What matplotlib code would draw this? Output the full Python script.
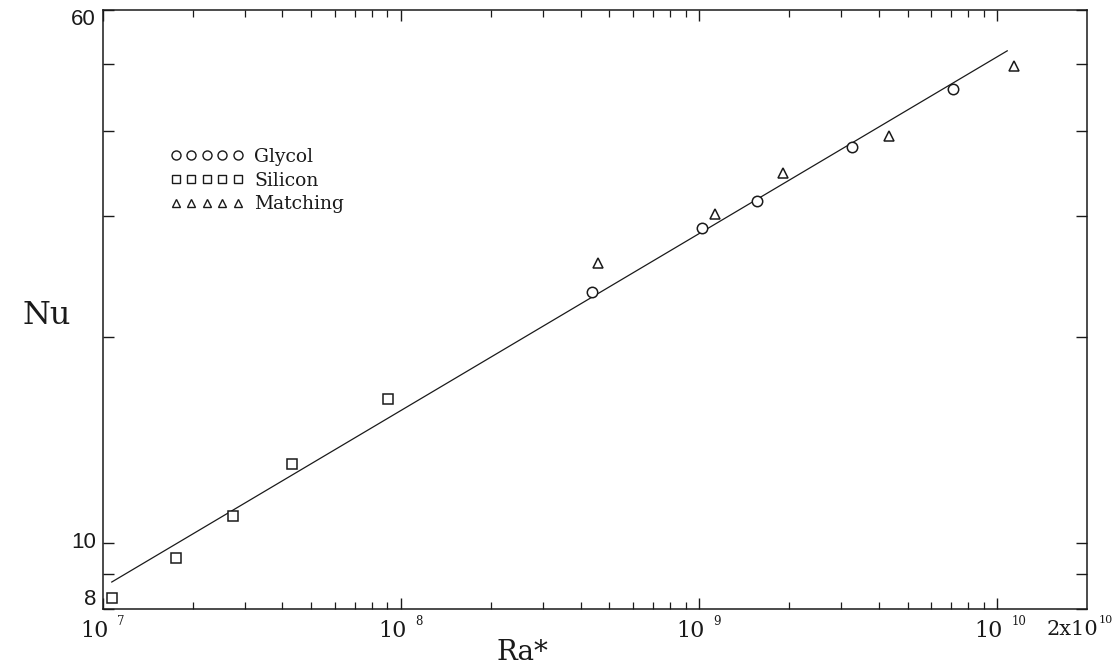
import numpy as np
import matplotlib
matplotlib.use("Agg")
import matplotlib.pyplot as plt
from matplotlib.lines import Line2D

# --- data ---
silicon_ra = [1.07e7, 1.76e7, 2.73e7, 4.31e7, 9.06e7]
silicon_nu = [8.30, 9.50, 10.94, 13.03, 16.21]

glycol_ra = [4.36e8, 1.02e9, 1.56e9, 3.26e9, 7.11e9]
glycol_nu = [23.2, 28.8, 31.6, 37.8, 46.0]

matching_ra = [4.56e8, 1.13e9, 1.91e9, 4.33e9, 1.14e10]
matching_nu = [25.6, 30.2, 34.7, 39.3, 49.7]

# correlation line, end points
fit_ra = [1.07e7, 1.08e10]
fit_nu = [8.76, 52.3]

x_decades = [1e7, 1e8, 1e9, 1e10]
x_decade_exp = ["7", "8", "9", "10"]
x_end = 2e10
y_ticks = [8, 9, 10, 20, 30, 40, 50, 60]
y_labels = {8: "8", 10: "10", 60: "60"}

INK = "#1a1a1a"
SERIF = ["DejaVu Serif"]
SANS = ["Liberation Sans", "DejaVu Sans"]

fig = plt.figure(figsize=(11.18, 6.67), dpi=100)
ax = fig.add_axes([103 / 1118, 1 - 609 / 667, 984 / 1118, 599 / 667])
ax.set_xscale("log")
ax.set_yscale("log")
ax.set_xlim(1e7, x_end)
ax.set_ylim(8, 60)

ax.plot(fit_ra, fit_nu, color=INK, lw=0.9)
ax.plot(glycol_ra, glycol_nu, ls="none", marker="o", ms=7.5, mfc="white", mec=INK, mew=1.1)
ax.plot(silicon_ra, silicon_nu, ls="none", marker="s", ms=6.5, mfc="white", mec=INK, mew=1.1)
ax.plot(matching_ra, matching_nu, ls="none", marker="^", ms=6.5, mfc="white", mec=INK, mew=1.1)

for s in ax.spines.values():
    s.set_color(INK)
    s.set_linewidth(1.1)

# ticks: inward on all four sides, labels drawn by hand
ax.tick_params(which="both", direction="in", top=True, right=True, colors=INK,
               labelbottom=False, labelleft=False)
ax.tick_params(which="major", length=8, width=1.0)
ax.tick_params(which="minor", length=5, width=0.9)
ax.set_xticks(x_decades)
ax.set_xticks([m * d for d in x_decades[:3] for m in range(2, 10)], minor=True)
ax.set_yticks(y_ticks)
ax.yaxis.set_minor_locator(matplotlib.ticker.NullLocator())

# x labels: "10" with a raised exponent
for d, e in zip(x_decades, x_decade_exp):
    ax.annotate("10", xy=(d, 0), xycoords=("data", "axes fraction"),
                xytext=(4, -8), textcoords="offset points", ha="right", va="top",
                fontsize=16, family=SERIF, color=INK)
    ax.annotate(e, xy=(d, 0), xycoords=("data", "axes fraction"),
                xytext=(10, -4), textcoords="offset points", ha="left", va="top",
                fontsize=8.5, family=SERIF, color=INK)
ax.annotate("2x10", xy=(x_end, 0), xycoords=("data", "axes fraction"),
            xytext=(8, -8), textcoords="offset points", ha="right", va="top",
            fontsize=15, family=SERIF, color=INK)
ax.annotate("10", xy=(x_end, 0), xycoords=("data", "axes fraction"),
            xytext=(8.5, -4), textcoords="offset points", ha="left", va="top",
            fontsize=8, family=SERIF, color=INK)

for v, t in y_labels.items():
    dy = -7 if v == 60 else (7 if v == 8 else 0)
    ax.annotate(t, xy=(0, v), xycoords=("axes fraction", "data"),
                xytext=(-5, dy), textcoords="offset points", ha="right", va="center",
                fontsize=16, family=SANS, color=INK)

fig.text(47 / 1118, 1 - 316 / 667, "Nu", fontsize=23, family=SERIF, color=INK,
         ha="center", va="center")
fig.text(522 / 1118, 1 - 652 / 667, "Ra*", fontsize=20, family=SERIF, color=INK,
         ha="center", va="center")

handles = [
    Line2D([], [], ls="none", marker="o", ms=6.5, mfc="white", mec=INK, mew=1.0),
    Line2D([], [], ls="none", marker="s", ms=6, mfc="white", mec=INK, mew=1.0),
    Line2D([], [], ls="none", marker="^", ms=6, mfc="white", mec=INK, mew=1.0),
]
leg = ax.legend(handles, ["Glycol", "Silicon", "Matching"], numpoints=5,
                loc="upper left", bbox_to_anchor=((170 - 103) / 984, (609 - 148) / 599),
                frameon=False, borderpad=0, borderaxespad=0, handlelength=3.9,
                handletextpad=0.6, labelspacing=0.3,
                prop={"family": SERIF, "size": 13.5})
for t in leg.get_texts():
    t.set_color(INK)

fig.savefig("out.png", dpi=100)
